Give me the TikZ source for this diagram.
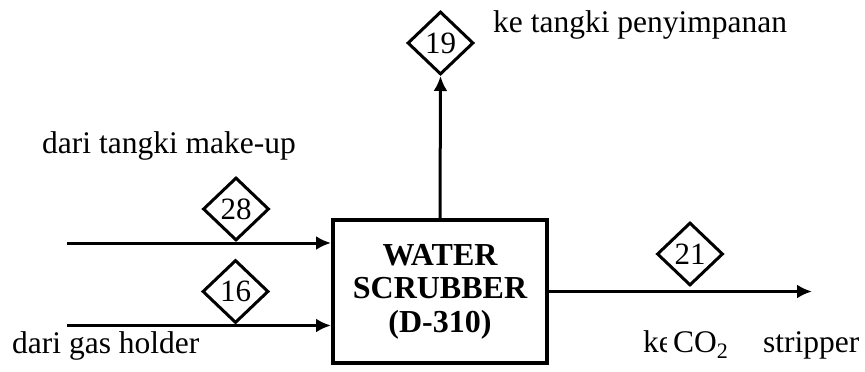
\documentclass[tikz,border=0pt]{standalone}
\usepackage{fontspec}
\setmainfont{Liberation Serif}
\usetikzlibrary{arrows.meta, positioning, shapes.geometric}

\begin{document}
\begin{tikzpicture}[
    x=1pt, y=-1pt,
    box/.style={draw, line width=4pt, minimum width=214pt, minimum height=143pt, align=center, font=\fontsize{32}{33.5}\selectfont\bfseries},
    stream/.style={draw, diamond, line width=3pt, inner sep=0pt, minimum width=66pt, minimum height=63pt, fill=white, font=\fontsize{31}{30}\selectfont},
    lbl/.style={inner sep=0pt, font=\fontsize{31.5}{34}\selectfont},
    >={Latex[length=15pt, width=14pt]}
]
\useasboundingbox (0,0) rectangle (865,372);

\node[box] (ws) at (440,291.5) {WATER\\SCRUBBER\\(D-310)};

\coordinate (in28) at (67,243);
\coordinate (in16) at (67,325.5);
\coordinate (out21) at (812,291.5);

\node[stream] (s19) at (440.5,43) {19};
\node[stream, anchor=south] (s28) at (236,242) {28};
\node[stream, anchor=south] (s16) at (235.5,324.5) {16};
\node[stream, anchor=south] (s21) at (690,287) {21};

\draw[->, line width=3pt] (in28) -- (in28 -| ws.west);
\draw[->, line width=3pt] (in16) -- (in16 -| ws.west);
\draw[->, line width=3pt] (ws.north) -- (s19.south);
\draw[->, line width=3pt] (ws.east |- out21) -- (out21);

\node[lbl, anchor=base west] (tmk) at (42,153) {dari tangki make-up};
\node[lbl, anchor=base west] (gh) at (12,353) {dari gas holder};
\node[lbl, anchor=base west] (tpy) at (493,32) {ke tangki penyimpanan};

\node[lbl, anchor=base west] (ke) at (643,352) {ke};
\node[lbl, anchor=base west, fill=white, inner xsep=6pt] (co) at (667,352) {CO\textsubscript{2}};
\node[lbl, anchor=base west] (str) at (763,352) {stripper};

\end{tikzpicture}
\end{document}
